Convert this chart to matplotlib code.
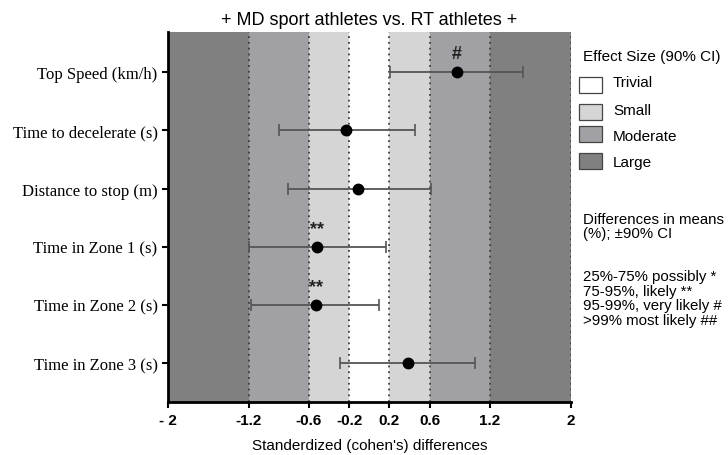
import matplotlib.pyplot as plt
from matplotlib.patches import Rectangle

# outcome measures, top to bottom
measures = ["Top Speed (km/h)", "Time to decelerate (s)", "Distance to stop (m)",
            "Time in Zone 1 (s)", "Time in Zone 2 (s)", "Time in Zone 3 (s)"]
effect = [0.87, -0.23, -0.11, -0.52, -0.53, 0.385]
ci_low = [0.21, -0.90, -0.81, -1.20, -1.18, -0.29]
ci_high = [1.53, 0.45, 0.61, 0.17, 0.10, 1.05]
marks = ["#", "", "", "**", "**", ""]

# effect size thresholds and bands
edges = [-2, -1.2, -0.6, -0.2, 0.2, 0.6, 1.2, 2]
band_names = ["Large", "Moderate", "Small", "Trivial", "Small", "Moderate", "Large"]
tick_labels = ["- 2", "-1.2", "-0.6", "-0.2", "0.2", "0.6", "1.2", "2"]
band_colors = {"Trivial": "#ffffff", "Small": "#d5d5d5",
               "Moderate": "#a1a1a5", "Large": "#808080"}

plt.rcParams['font.family'] = ['Liberation Sans', 'DejaVu Sans']

fig = plt.figure(figsize=(7.28, 4.56), dpi=100)
ax = fig.add_axes([0.2308, 0.1162, 0.553, 0.8114])

# shaded bands
for i in range(len(band_names)):
    ax.axvspan(edges[i], edges[i + 1], color=band_colors[band_names[i]], lw=0, zorder=0)
for e in edges[1:]:
    ax.axvline(e, color="#404040", lw=1.3, ls=(0, (1, 2.2)), zorder=1)

ypos = list(range(len(measures)))
lo_err = [effect[i] - ci_low[i] for i in ypos]
hi_err = [ci_high[i] - effect[i] for i in ypos]
ax.errorbar(effect, ypos, xerr=[lo_err, hi_err], fmt="o", color="black",
            ms=7.5, ecolor="#555555", elinewidth=1.3, capsize=4, capthick=1.2,
            zorder=3)
for i in ypos:
    if marks[i]:
        ax.text(effect[i], ypos[i] - 0.17, marks[i], ha="center", va="bottom",
                fontsize=13, fontweight="bold", color="#222222")

ax.set_xlim(-2, 2)
ax.set_ylim(5.67, -0.69)
ax.set_xticks(edges)
ax.set_xticklabels(tick_labels, fontsize=11, fontweight="bold")
ax.set_yticks(ypos)
ax.set_yticklabels(measures, fontsize=12, family="Liberation Serif")
ax.tick_params(axis="both", direction="out", length=4, width=1.5, color="black")
ax.tick_params(axis="x", pad=4)
for s in ["top", "right"]:
    ax.spines[s].set_visible(False)
for s in ["left", "bottom"]:
    ax.spines[s].set_linewidth(2)

ax.set_title("+ MD sport athletes vs. RT athletes +", fontsize=13, pad=6)
ax.set_xlabel("Standerdized (cohen's) differences", fontsize=11, labelpad=8)

# legend for bands
fig.text(583 / 728, 1 - 57 / 456, "Effect Size (90% CI)", fontsize=11, va="center")
leg_names = ["Trivial", "Small", "Moderate", "Large"]
leg_y = [85.5, 113, 135, 161.5]
txt_y = [83, 111, 137, 163]
for name, y, ty in zip(leg_names, leg_y, txt_y):
    fig.patches.append(Rectangle((579 / 728, 1 - (y + 8) / 456), 23 / 728, 16 / 456,
                                 transform=fig.transFigure, facecolor=band_colors[name],
                                 edgecolor="#444444", lw=0.9))
    fig.text(613 / 728, 1 - ty / 456, name, fontsize=11, va="center")

fig.text(583 / 728, 1 - 227 / 456, "Differences in means\n(%); \u00b190% CI",
         fontsize=10.8, va="center", linespacing=1.05)
fig.text(583 / 728, 1 - 299 / 456,
         "25%-75% possibly *\n75-95%, likely **\n95-99%, very likely #\n>99% most likely ##",
         fontsize=10.8, va="center", linespacing=1.06)

fig.savefig("out.png", dpi=100)
